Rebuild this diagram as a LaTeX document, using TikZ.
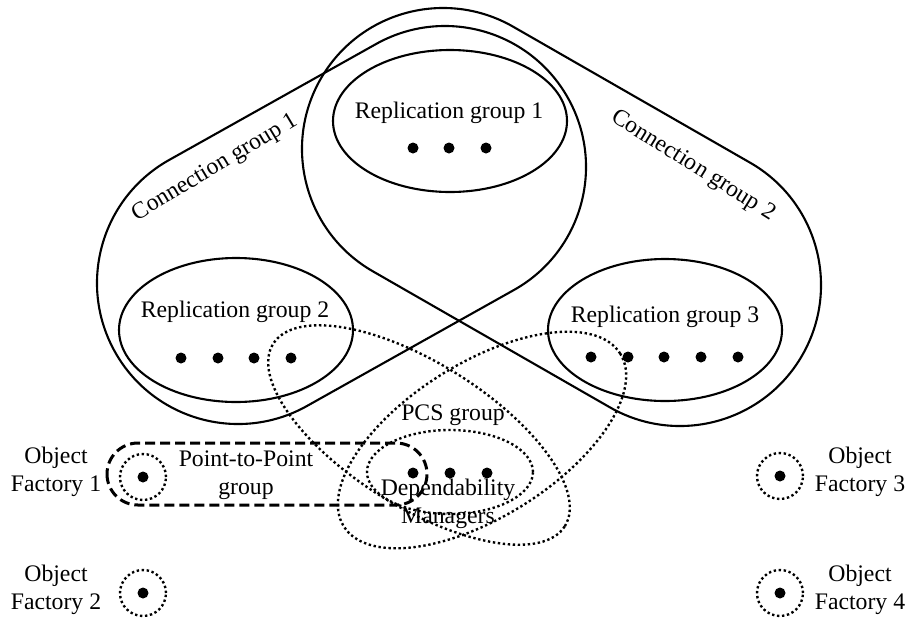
\documentclass[tikz,border=0pt]{standalone}
\usepackage{fontspec}
\setmainfont{Liberation Serif}
\usetikzlibrary{calc}

% outline of a connection group: hull of two circles of equal radius
\newcommand{\groupoutline}[4][]{%
  \draw[#1] let \p1=($(#3)-(#2)$), \n1={atan2(\y1,\x1)} in
    ($(#2)+(\n1+90:#4)$) -- ($(#3)+(\n1+90:#4)$)
    arc[start angle=\n1+90, end angle=\n1-90, radius=#4]
    -- ($(#2)+(\n1-90:#4)$)
    arc[start angle=\n1-90, end angle=\n1-270, radius=#4] -- cycle;}

\begin{document}
\begin{tikzpicture}[x=0.2mm,y=0.2mm,font=\fontsize{13.5}{15.6}\selectfont]
  \useasboundingbox (0,0) rectangle (909,-618);

  \tikzstyle{member}=[circle,fill,inner sep=0pt,minimum size=2.2mm]
  \tikzstyle{solidgroup}=[line width=0.42mm]
  \tikzstyle{dotgroup}=[line width=1.35pt,dash pattern=on 1.35pt off 1.5pt]
  \tikzstyle{p2pgroup}=[line width=0.6mm,dash pattern=on 2mm off 1mm]
  \tikzstyle{grouplabel}=[align=center,inner sep=0pt]

  % connection groups
  \coordinate (cg1top) at (445,-167);
  \coordinate (cg1left) at (238,-283);
  \coordinate (cg2top) at (443,-149);
  \coordinate (cg2right) at (680,-285);
  \groupoutline[solidgroup]{cg1top}{cg1left}{141}
  \groupoutline[solidgroup]{cg2top}{cg2right}{141}
  \node[grouplabel,rotate=31] (cg1) at (215,-168) {Connection group 1};
  \node[grouplabel,rotate=-32] (cg2) at (693,-166) {Connection group 2};

  % replication groups
  \coordinate (rg1) at (450,-121);
  \coordinate (rg2) at (236,-330);
  \coordinate (rg3) at (665,-330);
  \draw[solidgroup] (rg1) ellipse[x radius=117, y radius=71];
  \draw[solidgroup] (rg2) ellipse[x radius=117, y radius=72];
  \draw[solidgroup] (rg3) ellipse[x radius=117, y radius=71];
  \node[grouplabel] (rg1text) at (449,-113) {Replication group 1};
  \node[grouplabel] (rg2text) at (235,-312) {Replication group 2};
  \node[grouplabel] (rg3text) at (665,-317) {Replication group 3};

  \node[member] (a1) at (413,-148) {};
  \node[member] (a2) at (449,-148) {};
  \node[member] (a3) at (486,-148) {};

  \node[member] (b1) at (181,-358) {};
  \node[member] (b2) at (218,-358) {};
  \node[member] (b3) at (254,-358) {};
  \node[member] (b4) at (291,-358) {};

  \node[member] (c1) at (591,-357) {};
  \node[member] (c2) at (628,-357) {};
  \node[member] (c3) at (664,-357) {};
  \node[member] (c4) at (701,-357) {};
  \node[member] (c5) at (738,-357) {};

  % PCS group
  \draw[dotgroup,rotate around={-32:(419,-435)}] (419,-435) ellipse[x radius=172, y radius=72];
  \draw[dotgroup,rotate around={32:(482,-440)}] (482,-440) ellipse[x radius=163, y radius=77];
  \node[grouplabel] (pcs) at (453,-415) {PCS group};

  % dependability managers
  \draw[dotgroup] (450,-472) ellipse[x radius=83, y radius=42];
  \node[member] (d1) at (413,-473) {};
  \node[member] (d2) at (450,-473) {};
  \node[member] (d3) at (487,-473) {};
  \node[grouplabel] (dm) at (448,-504) {Dependability\\Managers};

  % point-to-point group
  \draw[p2pgroup,rounded corners=6.2mm] (107,-443) rectangle (427,-505);
  \node[grouplabel] (p2p) at (246,-475) {Point-to-Point\\group};

  % object factories
  \node[member] (of1) at (143,-477) {};
  \node[member] (of2) at (143,-593) {};
  \node[member] (of3) at (780,-476) {};
  \node[member] (of4) at (780,-593) {};
  \draw[dotgroup] (of1) circle[radius=23];
  \draw[dotgroup] (of2) circle[radius=23];
  \draw[dotgroup] (of3) circle[radius=23];
  \draw[dotgroup] (of4) circle[radius=23];
  \node[grouplabel] (of1text) at (56,-472) {Object\\Factory 1};
  \node[grouplabel] (of2text) at (56,-590) {Object\\Factory 2};
  \node[grouplabel] (of3text) at (860,-472) {Object\\Factory 3};
  \node[grouplabel] (of4text) at (860,-590) {Object\\Factory 4};
\end{tikzpicture}
\end{document}
